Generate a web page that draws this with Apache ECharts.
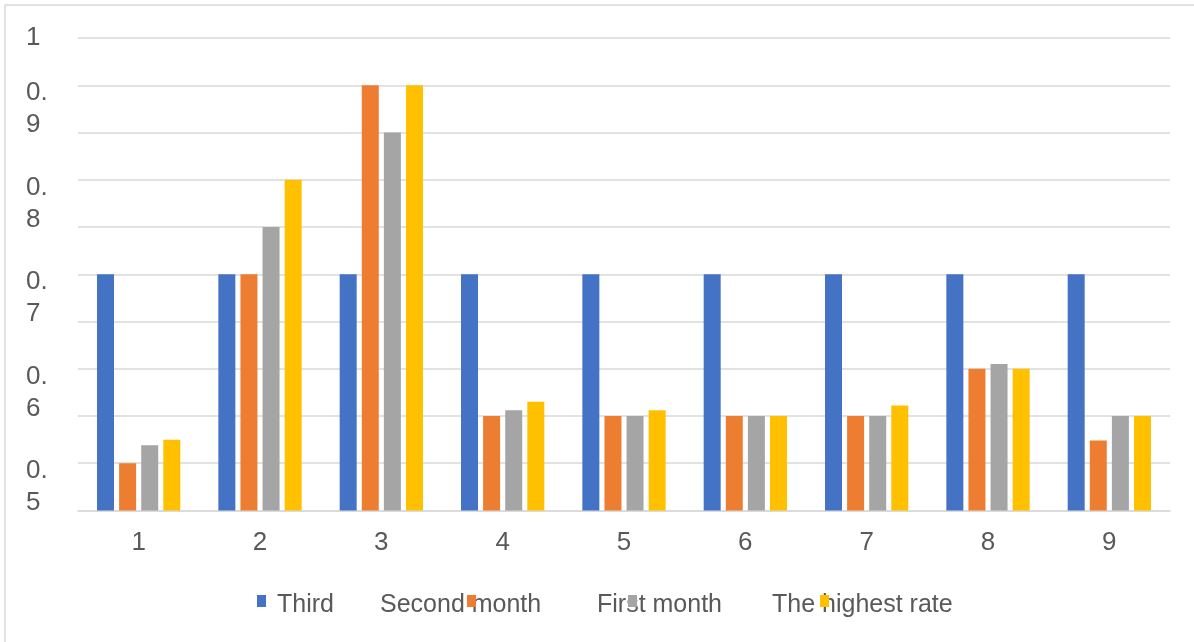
<!DOCTYPE html>
<html>
<head>
<meta charset="utf-8">
<script src="https://cdn.jsdelivr.net/npm/echarts@6/dist/echarts.min.js"></script>
<style>
  html, body { margin: 0; padding: 0; background: #ffffff; }
  #chart { width: 1194px; height: 642px; }
</style>
</head>
<body>
<div id="chart"></div>
<script>
// ---- data ----
const categories = ['1', '2', '3', '4', '5', '6', '7', '8', '9'];
const seriesNames = ['Third', 'Second month', 'First month', 'The highest rate'];
const third       = [0.75, 0.75, 0.75, 0.75, 0.75, 0.75, 0.75, 0.75, 0.75];
const secondMonth = [0.55, 0.75, 0.95, 0.60, 0.60, 0.60, 0.60, 0.65, 0.574];
const firstMonth  = [0.569, 0.80, 0.90, 0.606, 0.60, 0.60, 0.60, 0.655, 0.60];
const highestRate = [0.575, 0.85, 0.95, 0.615, 0.606, 0.60, 0.611, 0.65, 0.60];
const yTickLabels = ['0.5', '0.6', '0.7', '0.8', '0.9', '1'];

// ---- styles / layout ----
const colors = ['#4472C4', '#ED7D31', '#A5A5A5', '#FFC000'];
const textColor = '#595959';
const fontFamily = '"Liberation Sans", Arial, sans-serif';
const legendTextX = [277, 380, 597, 772];
const legendIconX = [257, 467, 628, 820];

const valueSets = [third, secondMonth, firstMonth, highestRate];

// label axis: shifted by half a gridline step so each label sits between gridlines
function labelFor(v) {
  const k = Math.round(v * 1000);
  if (k === 975) return yTickLabels[yTickLabels.length - 1];
  if (k % 100 === 0) {
    const s = yTickLabels.find(t => Math.round(parseFloat(t) * 1000) === k);
    return s ? s.replace('.', '.\n') : '';
  }
  return '';
}

const legends = [];
seriesNames.forEach((name, i) => {
  legends.push({
    data: [name],
    left: legendTextX[i] - 6,
    top: 590,
    padding: 0,
    itemWidth: 1,
    itemHeight: 1,
    itemStyle: { opacity: 0 },
    textStyle: { color: textColor, fontSize: 25, lineHeight: 30, fontFamily: fontFamily }
  });
  legends.push({
    data: [name],
    left: legendIconX[i],
    top: 595,
    padding: 0,
    itemWidth: 9,
    itemHeight: 12,
    icon: 'rect',
    formatter: function () { return ''; },
    textStyle: { fontSize: 12, lineHeight: 12 }
  });
});

const chart = echarts.init(document.getElementById('chart'), null, { renderer: 'canvas' });
chart.setOption({
  animation: false,
  backgroundColor: '#ffffff',
  color: colors,
  textStyle: { fontFamily: fontFamily },
  graphic: [{
    type: 'rect',
    silent: true,
    shape: { x: 5, y: 5, width: 1400, height: 1000 },
    style: { fill: 'none', stroke: '#d9d9d9', lineWidth: 1.5 }
  }],
  grid: { left: 78, right: 24, top: 38, bottom: 131.5, containLabel: false },
  legend: legends,
  xAxis: {
    type: 'category',
    data: categories,
    axisTick: { show: false },
    axisLine: { lineStyle: { color: '#d9d9d9', width: 1.5 } },
    axisLabel: { color: textColor, fontSize: 26, lineHeight: 30, margin: 17, fontFamily: fontFamily }
  },
  yAxis: [{
    type: 'value',
    min: 0.5,
    max: 1.0,
    interval: 0.05,
    axisLine: { show: false },
    axisTick: { show: false },
    axisLabel: { show: false },
    splitLine: { lineStyle: { color: '#d9d9d9', width: 1.5 } }
  }, {
    type: 'value',
    position: 'left',
    offset: 0,
    min: 0.475,
    max: 0.975,
    interval: 0.025,
    axisLine: { show: false },
    axisTick: { show: false },
    splitLine: { show: false },
    axisLabel: {
      align: 'left',
      margin: 52,
      color: textColor,
      fontSize: 26,
      lineHeight: 32,
      padding: [4, 0, 0, 0],
      fontFamily: fontFamily,
      formatter: labelFor
    }
  }],
  series: seriesNames.map((name, i) => ({
    name: name,
    type: 'bar',
    yAxisIndex: 0,
    data: valueSets[i],
    barWidth: 17,
    barGap: '30%',
    itemStyle: { color: colors[i] }
  }))
});
</script>
</body>
</html>
